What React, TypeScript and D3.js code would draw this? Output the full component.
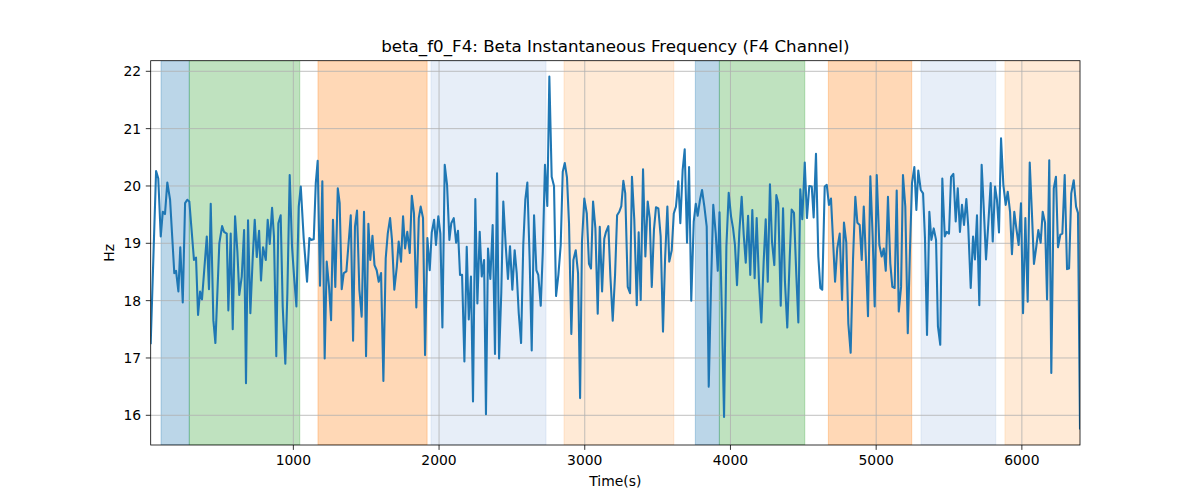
import React from "react";
import * as d3 from "d3";

// Time (s) of each sample
const times: number[] = [
  21, 58, 73, 90, 104, 119, 135, 154, 183, 195, 211, 224, 241, 257, 272, 286, 318, 332, 346, 360,
  373, 406, 421, 433, 451, 465, 492, 511, 524, 543, 554, 570, 584, 600, 616, 629, 646, 662, 675, 689,
  705, 721, 735, 749, 765, 778, 792, 811, 824, 838, 854, 867, 883, 897, 913, 927, 945, 959, 975, 991,
  1005, 1021, 1037, 1051, 1071, 1094, 1110, 1123, 1140, 1154, 1167, 1183, 1199, 1215, 1229, 1245, 1259, 1272, 1288, 1305,
  1318, 1332, 1346, 1364, 1394, 1410, 1423, 1437, 1453, 1469, 1485, 1499, 1515, 1528, 1543, 1557, 1572, 1586, 1602, 1618,
  1634, 1648, 1664, 1677, 1693, 1710, 1723, 1739, 1753, 1767, 1782, 1799, 1813, 1828, 1844, 1861, 1874, 1890, 1904, 1920,
  1936, 1950, 1966, 1979, 1995, 2009, 2023, 2039, 2055, 2071, 2084, 2101, 2117, 2130, 2144, 2158, 2174, 2190, 2204, 2219,
  2233, 2249, 2263, 2279, 2293, 2309, 2322, 2336, 2352, 2368, 2384, 2398, 2412, 2427, 2441, 2458, 2473, 2487, 2503, 2519,
  2533, 2547, 2563, 2578, 2592, 2606, 2622, 2636, 2652, 2668, 2681, 2698, 2712, 2727, 2743, 2757, 2773, 2789, 2803, 2819,
  2835, 2849, 2863, 2878, 2892, 2908, 2922, 2938, 2954, 2968, 2981, 2997, 3014, 3029, 3043, 3057, 3073, 3089, 3103, 3119,
  3134, 3146, 3162, 3176, 3192, 3208, 3222, 3237, 3251, 3265, 3278, 3295, 3311, 3324, 3340, 3357, 3370, 3384, 3400, 3416,
  3432, 3446, 3460, 3475, 3489, 3505, 3521, 3537, 3551, 3567, 3580, 3597, 3611, 3626, 3642, 3656, 3672, 3686, 3702, 3716,
  3731, 3748, 3762, 3775, 3791, 3805, 3821, 3837, 3851, 3867, 3882, 3899, 3913, 3925, 3940, 3956, 3972, 3988, 4004, 4018,
  4031, 4045, 4061, 4077, 4091, 4105, 4121, 4136, 4150, 4166, 4180, 4196, 4212, 4228, 4242, 4256, 4271, 4285, 4301, 4315,
  4328, 4345, 4361, 4374, 4390, 4407, 4420, 4436, 4452, 4466, 4479, 4493, 4510, 4525, 4541, 4558, 4571, 4587, 4603, 4617,
  4630, 4647, 4661, 4676, 4690, 4718, 4733, 4750, 4766, 4779, 4795, 4809, 4825, 4841, 4857, 4871, 4887, 4901, 4915, 4930,
  4944, 4960, 4976, 4990, 5004, 5022, 5038, 5052, 5066, 5081, 5097, 5111, 5127, 5141, 5155, 5171, 5184, 5200, 5217, 5232,
  5246, 5262, 5276, 5289, 5306, 5322, 5335, 5349, 5365, 5379, 5395, 5411, 5424, 5440, 5454, 5471, 5484, 5500, 5514, 5530,
  5546, 5560, 5575, 5589, 5603, 5619, 5632, 5649, 5665, 5678, 5692, 5708, 5724, 5738, 5754, 5770, 5786, 5800, 5816, 5829,
  5843, 5857, 5873, 5889, 5903, 5919, 5932, 5948, 5962, 5978, 5994, 6008, 6024, 6040, 6054, 6070, 6083, 6099, 6113, 6129,
  6143, 6159, 6173, 6188, 6202, 6219, 6234, 6248, 6264, 6278, 6294, 6310, 6324, 6339, 6356, 6372, 6385, 6399,
];

// Beta instantaneous frequency (Hz)
const hz: number[] = [
  17.26, 20.26, 20.13, 19.12, 19.55, 19.51, 20.06, 19.76, 18.48, 18.52, 18.16, 18.93, 17.97, 19.70, 19.76, 19.73, 18.71, 18.75, 17.75, 18.16,
  18.02, 19.12, 18.20, 19.69, 17.66, 17.26, 19.00, 19.30, 19.20, 19.17, 17.83, 19.17, 17.50, 19.47, 18.85, 18.10, 18.42, 19.23, 16.56, 19.40,
  17.78, 18.74, 19.41, 18.76, 19.22, 18.35, 18.93, 18.71, 19.41, 18.99, 19.62, 19.12, 17.03, 19.35, 19.49, 17.90, 16.90, 18.13, 20.19, 18.94,
  18.42, 17.90, 19.64, 19.99, 19.09, 18.33, 19.09, 19.06, 19.07, 20.05, 20.44, 18.26, 20.08, 16.99, 18.68, 18.24, 17.66, 19.41, 18.24, 19.96,
  19.70, 18.20, 18.48, 18.51, 19.49, 17.30, 19.29, 19.57, 18.19, 17.72, 19.55, 17.03, 19.34, 18.71, 19.13, 18.62, 18.53, 18.33, 18.48, 16.60,
  18.74, 19.17, 19.44, 19.06, 18.19, 18.59, 19.03, 18.68, 19.47, 18.91, 19.20, 18.83, 19.83, 19.52, 17.88, 19.44, 19.64, 19.44, 17.05, 19.09,
  18.53, 19.19, 19.41, 18.97, 19.47, 19.17, 17.53, 20.37, 20.02, 19.06, 19.35, 19.44, 19.01, 19.22, 18.45, 18.45, 16.94, 18.94, 17.67, 18.42,
  16.24, 19.77, 17.95, 19.20, 18.42, 18.71, 16.02, 18.91, 18.38, 19.32, 17.07, 20.22, 16.99, 18.13, 19.73, 18.94, 18.38, 18.95, 18.19, 18.88,
  18.48, 17.78, 17.26, 18.97, 19.76, 20.06, 18.71, 17.13, 19.49, 18.53, 18.45, 17.91, 18.85, 20.37, 19.65, 21.91, 20.16, 20.00, 18.08, 18.45,
  18.97, 20.25, 20.40, 20.15, 19.35, 17.42, 18.71, 18.88, 18.48, 16.30, 19.03, 19.78, 19.52, 18.64, 18.56, 19.73, 19.26, 17.77, 19.29, 18.16,
  19.08, 19.20, 19.30, 18.42, 17.65, 18.45, 19.49, 19.55, 19.65, 20.09, 19.87, 18.24, 18.13, 20.16, 19.41, 17.92, 19.19, 18.01, 20.29, 18.77,
  19.73, 19.44, 18.24, 19.24, 19.63, 19.61, 19.12, 17.46, 18.71, 19.64, 18.68, 18.88, 19.52, 19.64, 20.08, 19.35, 20.28, 20.64, 19.01, 20.33,
  18.00, 19.38, 19.69, 19.48, 19.76, 19.93, 19.64, 19.29, 16.50, 18.30, 19.67, 19.17, 18.52, 19.54, 17.90, 15.97, 18.94, 19.88, 19.47, 19.26,
  18.97, 18.27, 19.20, 19.81, 19.15, 18.66, 19.48, 18.45, 19.58, 18.39, 19.44, 18.31, 17.62, 18.68, 19.42, 18.33, 20.03, 19.03, 18.62, 19.84,
  19.70, 17.91, 19.61, 18.33, 17.53, 18.77, 19.59, 19.53, 18.45, 17.62, 19.94, 19.42, 20.41, 19.44, 20.00, 19.99, 19.45, 20.56, 18.77, 18.22,
  18.19, 19.99, 20.02, 19.67, 19.78, 18.33, 18.91, 19.17, 18.01, 19.36, 19.01, 17.60, 17.09, 18.71, 19.81, 19.36, 19.32, 18.71, 19.64, 18.71,
  17.73, 20.17, 19.12, 17.90, 20.19, 18.97, 18.77, 18.91, 18.52, 19.81, 18.65, 18.24, 18.22, 19.92, 17.81, 18.24, 20.19, 19.64, 17.43, 18.88,
  20.05, 20.33, 19.58, 20.27, 19.93, 19.87, 19.09, 17.40, 19.55, 19.06, 19.26, 19.06, 17.55, 17.23, 20.13, 19.12, 19.20, 19.17, 20.16, 20.21,
  19.38, 19.96, 19.20, 19.67, 19.32, 19.77, 19.29, 18.22, 19.12, 18.72, 19.49, 17.92, 20.37, 19.64, 18.72, 19.35, 20.05, 19.03, 19.99, 19.76,
  19.19, 20.83, 20.02, 19.67, 19.90, 19.55, 18.81, 19.55, 19.26, 18.97, 19.70, 17.78, 19.44, 17.98, 20.41, 19.47, 18.64, 18.94, 19.23, 19.01,
  19.55, 19.36, 18.02, 20.45, 16.74, 19.96, 20.16, 18.93, 19.15, 19.17, 20.19, 18.55, 18.56, 19.87, 20.10, 19.64, 19.53, 15.77,
];

// Shaded phases
const spanStarts: number[] = [92, 286, 1169, 1945, 2858, 3759, 3924, 4672, 5308, 5884];
const spanEnds: number[] = [286, 1044, 1918, 2734, 3611, 3924, 4510, 5244, 5821, 6420];
const spanKinds: string[] = ["blue", "green", "orange", "lightblue", "lightorange", "blue", "green", "orange", "lightblue", "lightorange"];
const kindColors: Record<string, string> = {
  blue: "#1f77b4",
  green: "#2ca02c",
  orange: "#ff7f0e",
  lightblue: "#aec7e8",
  lightorange: "#ffbb78",
};

const xTicks: number[] = [1000, 2000, 3000, 4000, 5000, 6000];
const yTicks: number[] = [16, 17, 18, 19, 20, 21, 22];

const title = "beta_f0_F4: Beta Instantaneous Frequency (F4 Channel)";
const xLabel = "Time(s)";
const yLabel = "Hz";

export default function App() {
  const W = 1200;
  const H = 500;
  const left = 150.7;
  const right = 1080;
  const top = 60.7;
  const bottom = 445;

  const x = d3.scaleLinear().domain([21, 6399]).range([left, right]);
  const y = d3.scaleLinear().domain([15.482, 22.185]).range([bottom, top]);

  const pts: [number, number][] = times.map((t, i) => [t, hz[i]]);
  const line = d3
    .line<[number, number]>()
    .x((d) => x(d[0]))
    .y((d) => y(d[1]));

  const font = "DejaVu Sans, sans-serif";

  return (
    <svg
      width={W}
      height={H}
      style={{ position: "absolute", left: 0, top: 0, background: "#fff" }}
      fontFamily={font}
    >
      <defs>
        <clipPath id="plotclip">
          <rect x={left} y={top} width={right - left} height={bottom - top} />
        </clipPath>
      </defs>
      <g clipPath="url(#plotclip)">
        {spanStarts.map((s, i) => {
          const x0 = x(s);
          const x1 = x(spanEnds[i]);
          const c = kindColors[spanKinds[i]];
          return (
            <rect
              key={i}
              x={x0}
              y={top}
              width={x1 - x0}
              height={bottom - top}
              fill={c}
              fillOpacity={0.3}
              stroke={c}
              strokeOpacity={0.3}
              strokeWidth={1}
            />
          );
        })}
        {xTicks.map((t) => (
          <line key={"gx" + t} x1={x(t)} x2={x(t)} y1={top} y2={bottom} stroke="#b0b0b0" strokeWidth={0.8} />
        ))}
        {yTicks.map((t) => (
          <line key={"gy" + t} x1={left} x2={right} y1={y(t)} y2={y(t)} stroke="#b0b0b0" strokeWidth={0.8} />
        ))}
        <path d={line(pts) || ""} fill="none" stroke="#1f77b4" strokeWidth={2.08} strokeLinejoin="round" strokeLinecap="square" />
      </g>
      <rect x={left} y={top} width={right - left} height={bottom - top} fill="none" stroke="#000" strokeWidth={0.8} />
      {xTicks.map((t) => (
        <g key={"tx" + t}>
          <line x1={x(t)} x2={x(t)} y1={bottom} y2={bottom + 4.9} stroke="#000" strokeWidth={0.8} />
          <text x={x(t)} y={bottom + 19.5} textAnchor="middle" fontSize={13.9} fill="#000">
            {t}
          </text>
        </g>
      ))}
      {yTicks.map((t) => (
        <g key={"ty" + t}>
          <line x1={left - 4.9} x2={left} y1={y(t)} y2={y(t)} stroke="#000" strokeWidth={0.8} />
          <text x={left - 9.5} y={y(t)} dy="0.35em" textAnchor="end" fontSize={13.9} fill="#000">
            {t}
          </text>
        </g>
      ))}
      <text x={(left + right) / 2} y={52} textAnchor="middle" fontSize={16.7} fill="#000">
        {title}
      </text>
      <text x={(left + right) / 2} y={486} textAnchor="middle" fontSize={13.9} fill="#000">
        {xLabel}
      </text>
      <text
        transform={`translate(114, ${(top + bottom) / 2}) rotate(-90)`}
        textAnchor="middle"
        fontSize={13.9}
        fill="#000"
      >
        {yLabel}
      </text>
    </svg>
  );
}
